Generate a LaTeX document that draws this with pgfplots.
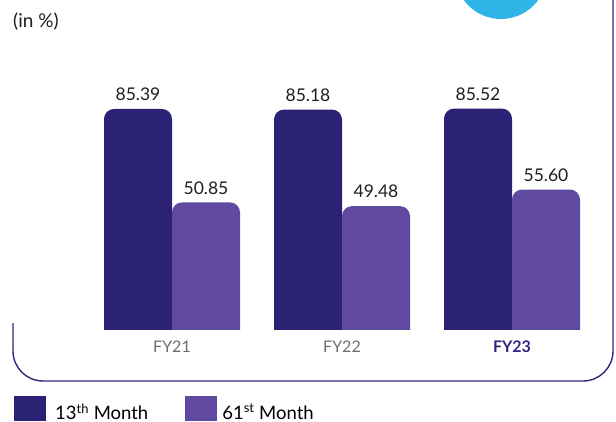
\documentclass[border=0pt]{standalone}
\usepackage{fontspec}
\setmainfont{Lato}
\usepackage{pgfplots}
\pgfplotsset{compat=1.18}

\definecolor{barDark}{HTML}{2B2175}
\definecolor{barLight}{HTML}{6049A0}
\definecolor{skyBlue}{HTML}{2EB4E7}
\definecolor{frameNavy}{HTML}{2E2680}
\definecolor{tickGray}{HTML}{6D6D6D}
\definecolor{valText}{HTML}{1E1E1E}

\begin{document}
\begin{tikzpicture}
\path[use as bounding box, clip] (0pt,0pt) rectangle (616pt,421pt);
% decoration
\fill[skyBlue] (501pt,448pt) circle[radius=46pt];
\draw[frameNavy, line width=1.4pt, rounded corners=30pt]
  (13pt,98pt) -- (13pt,40pt) -- (613pt,40pt) -- (613pt,440pt);
\node[anchor=base west, inner sep=0pt, text=valText,
      font=\fontsize{19}{22}\selectfont] at (13pt,393.5pt) {(in \%)};

\begin{axis}[
    at={(70pt,81pt)}, anchor=south west,
    scale only axis, width=544pt, height=297.6pt,
    xmin=-0.6, xmax=2.6, ymin=0, ymax=110,
    ybar=0pt, bar width=68pt,
    axis x line*=bottom, axis y line=none,
    x axis line style={draw=none},
    xtick={0,1,2}, ytick=\empty,
    major tick length=0pt,
    xticklabels={{\color{tickGray}FY21},{\color{tickGray}FY22},{\bfseries\color{frameNavy}FY23}},
    xticklabel style={anchor=north, inner sep=0pt, yshift=-0.5pt,
                      font=\fontsize{16}{19}\selectfont},
    nodes near coords, point meta=explicit symbolic,
    every node near coord/.append style={anchor=south, inner sep=0pt, yshift=8pt,
                      text=valText, font=\fontsize{17.5}{20}\selectfont},
    legend columns=2,
    legend image code/.code={\fill[#1, sharp corners] (0pt,-9pt) rectangle (32pt,16.2pt);},
    legend style={at={(axis description cs:0,0)}, anchor=north west,
                  xshift=-56pt, yshift=-56pt, draw=none, fill=none, inner sep=0pt,
                  font=\fontsize{18.5}{21}\selectfont,
                  nodes={inner sep=0pt},
                  /tikz/column 1/.style={column sep=9pt},
                  /tikz/column 2/.style={column sep=37pt},
                  /tikz/column 3/.style={column sep=5pt}},
    legend cell align=left,
]
% hide the rounded lower corners of the bars below the visible base line
\clip (axis cs:-1,3.7) rectangle (axis cs:3,200);
\addplot[fill=barDark, draw=none, rounded corners=10pt] coordinates {
    (0,85.39) [85.39]
    (1,85.18) [85.18]
    (2,85.52) [85.52]
};
\addlegendentry{13\textsuperscript{th} Month}
\addplot[fill=barLight, draw=none, rounded corners=10pt] coordinates {
    (0,50.85) [50.85]
    (1,49.48) [49.48]
    (2,55.60) [55.60]
};
\addlegendentry{61\textsuperscript{st} Month}
\end{axis}
\end{tikzpicture}
\end{document}
